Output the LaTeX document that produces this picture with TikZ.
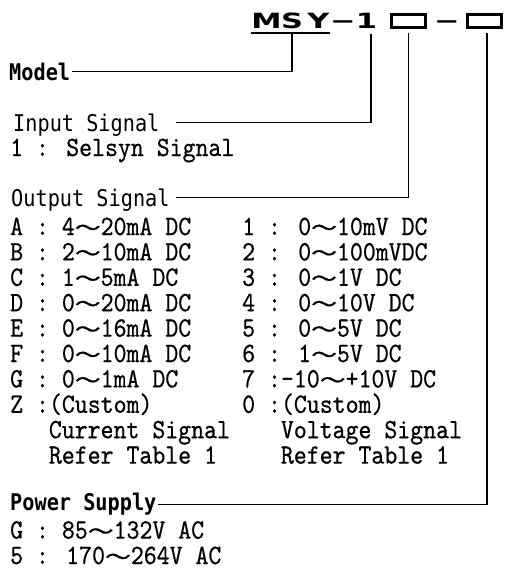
\documentclass[tikz,border=0pt]{standalone}
\usepackage{fontspec}
\newfontfamily\hdfont[FakeStretch=0.88]{DejaVu Sans Mono}
\newfontfamily\bdfont[Extension=.otf,FakeStretch=0.88,FakeBold=0.5]{lmmono10-regular}
\newfontfamily\cjkfont[FakeStretch=1.29,FakeBold=1]{Noto Sans CJK JP}
\newfontfamily\topfont[FakeStretch=1.45]{DejaVu Sans}
\newcommand\wv{{\cjkfont\fontsize{20}{20}\selectfont ～}}
\begin{document}
\begin{tikzpicture}[x=1pt,y=-1pt,
 hd/.style={anchor=base west,inner sep=0pt,text height=17pt,text depth=0pt,font=\hdfont\fontsize{23}{23}\selectfont},
 hdb/.style={hd,font=\hdfont\bfseries\fontsize{23}{23}\selectfont},
 bd/.style={anchor=base west,inner sep=0pt,text height=17pt,text depth=4pt,font=\bdfont\fontsize{28}{28}\selectfont},
 tp/.style={anchor=base,inner sep=0pt,text height=16pt,text depth=0pt,font=\topfont\bfseries\fontsize{21}{21}\selectfont},
 conn/.style={line width=1.3pt},
 slot/.style={draw,line width=3pt,minimum width=34pt,minimum height=13pt,inner sep=0pt}]
\fill[white] (0,0) rectangle (505,570);
\useasboundingbox (0,0) rectangle (505,570);
% code line
\node[tp] (mM) at (266.5,28) {M};
\node[tp] (mS) at (292,28) {S};
\node[tp] (mY) at (318.5,28) {Y};
\node[tp] (d1) at (343,28) {−};
\node[tp] (one) at (366.5,28) {1};
\node[tp] (d2) at (447,28) {−};
\node[slot] (b1) at (408.5,21) {};
\node[slot] (b2) at (484.5,21) {};
\draw[line width=1.6pt] ([yshift=-5pt]mM.base west) -- ([yshift=-5pt]mY.base east);
% headings
\node[hdb] (model) at (9,80) {Model};
\node[hd] (inp) at (13,131) {Input Signal};
\node[bd] (sel) at (10,156) {1 : Selsyn Signal};
\node[hd] (outp) at (11,206) {Output Signal};
% output rows
\node[bd] (LA) at (10,235) {A : 4\wv 20mA DC};
\node[bd] (LB) at (10,260.4) {B : 2\wv 10mA DC};
\node[bd] (LC) at (10,285.8) {C : 1\wv 5mA DC};
\node[bd] (LD) at (10,311.2) {D : 0\wv 20mA DC};
\node[bd] (LE) at (10,336.6) {E : 0\wv 16mA DC};
\node[bd] (LF) at (10,362) {F : 0\wv 10mA DC};
\node[bd] (LG) at (10,387.4) {G : 0\wv 1mA DC};
\node[bd] (LZ) at (10,412.8) {Z :(Custom)};
\node[bd] (LCS) at (48.7,438.2) {Current Signal};
\node[bd] (LRT) at (48.7,463.6) {Refer Table 1};
\node[bd] (R1) at (242,235) {1 : 0\wv 10mV DC};
\node[bd] (R2) at (242,260.4) {2 : 0\wv 100mVDC};
\node[bd] (R3) at (242,285.8) {3 : 0\wv 1V DC};
\node[bd] (R4) at (242,311.2) {4 : 0\wv 10V DC};
\node[bd] (R5) at (242,336.6) {5 : 0\wv 5V DC};
\node[bd] (R6) at (242,362) {6 : 1\wv 5V DC};
\node[bd] (R7) at (242,387.4) {7 :-10\wv +10V DC};
\node[bd] (R0) at (242,412.8) {0 :(Custom)};
\node[bd] (RVS) at (280.7,438.2) {Voltage Signal};
\node[bd] (RRT) at (280.7,463.6) {Refer Table 1};
% power
\node[hdb] (pow) at (10,510) {Power Supply};
\node[bd] (pg) at (10,538.6) {G : 85\wv 132V AC};
\node[bd] (p5) at (10,564) {5 : 170\wv 264V AC};
% connectors
\draw[conn] ([xshift=2pt]model.east) -| ([yshift=-6pt]mS.base);
\draw[conn] ([xshift=16pt]inp.east) -| ([xshift=4.5pt,yshift=-6pt]one.base);
\draw[conn] ([xshift=6pt]outp.east) -| ([yshift=-4pt]b1.south);
\draw[conn] ([xshift=1pt,yshift=-3pt]pow.east) -| ([xshift=2.5pt,yshift=-4pt]b2.south);
\end{tikzpicture}
\end{document}
